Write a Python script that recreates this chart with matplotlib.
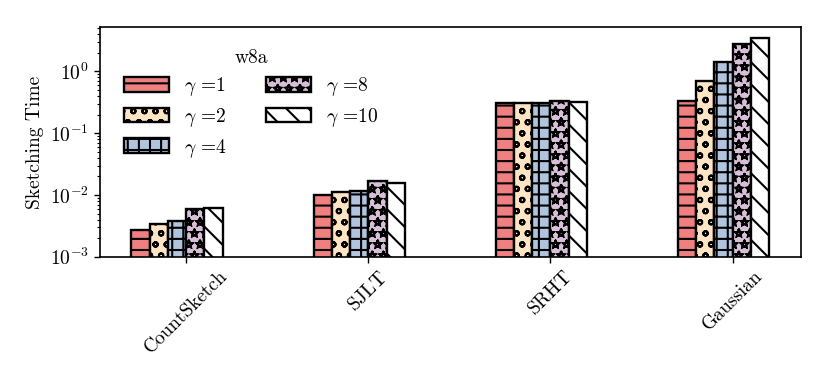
import numpy as np
import matplotlib
matplotlib.use("Agg")
import matplotlib.pyplot as plt
import matplotlib.hatch

# estrellas solo con contorno, como en el original
matplotlib.hatch.Stars.filled = False

# figura pequena a dpi alto para que la densidad de los hatch coincida
plt.rcParams['font.family'] = 'serif'
plt.rcParams['font.serif'] = ['cmr10']
plt.rcParams['mathtext.fontset'] = 'cm'
plt.rcParams['axes.unicode_minus'] = False
plt.rcParams['axes.formatter.use_mathtext'] = True
plt.rcParams['hatch.linewidth'] = 0.75
plt.rcParams['axes.linewidth'] = 0.6
plt.rcParams['xtick.major.size'] = 2.0
plt.rcParams['ytick.major.size'] = 2.0
plt.rcParams['ytick.minor.size'] = 1.1
plt.rcParams['xtick.major.width'] = 0.5
plt.rcParams['ytick.major.width'] = 0.5
plt.rcParams['ytick.minor.width'] = 0.4
plt.rcParams['xtick.major.pad'] = 1.8
plt.rcParams['ytick.major.pad'] = 1.8

# datos
methods = ['CountSketch', 'SJLT', 'SRHT', 'Gaussian']
gammas = [1, 2, 4, 8, 10]
t_g1 = [0.00274, 0.0101, 0.31, 0.335]
t_g2 = [0.00343, 0.0110, 0.31, 0.69]
t_g4 = [0.0038, 0.0118, 0.31, 1.43]
t_g8 = [0.0060, 0.0170, 0.335, 2.83]
t_g10 = [0.0061, 0.0156, 0.32, 3.5]
times = [t_g1, t_g2, t_g4, t_g8, t_g10]

colors = ['#F08080', '#FFE5C4', '#B0C4DE', '#D8BFD8', 'white']
hatches = ['---', 'ooo', '+++', '***', '\\\\\\']

fig, ax = plt.subplots(figsize=(4.15, 1.945), dpi=200)
x = np.arange(len(methods))
w = 0.1
for i, g in enumerate(gammas):
    ax.bar(x + (i - 3) * w, times[i], width=w, align='edge', color=colors[i],
           edgecolor='black', linewidth=0.85, hatch=hatches[i],
           label=r'$\gamma$ =' + str(g))

ax.set_yscale('log')
ax.set_ylim(1e-3, 5.2)
ax.set_xticks(x)
ax.set_xticklabels(methods, rotation=45, fontsize=7)
ax.tick_params(axis='y', labelsize=7)
ax.set_ylabel('Sketching Time', fontsize=7, labelpad=2)
ax.legend(title='w8a', ncol=2, frameon=False, loc='upper left', fontsize=7,
          title_fontsize=7, handlelength=2.3, handleheight=0.8,
          labelspacing=0.4, bbox_to_anchor=(0.01, 0.98))

plt.subplots_adjust(left=0.12, right=0.965, top=0.93, bottom=0.34)
plt.savefig('out.png', dpi=200)
